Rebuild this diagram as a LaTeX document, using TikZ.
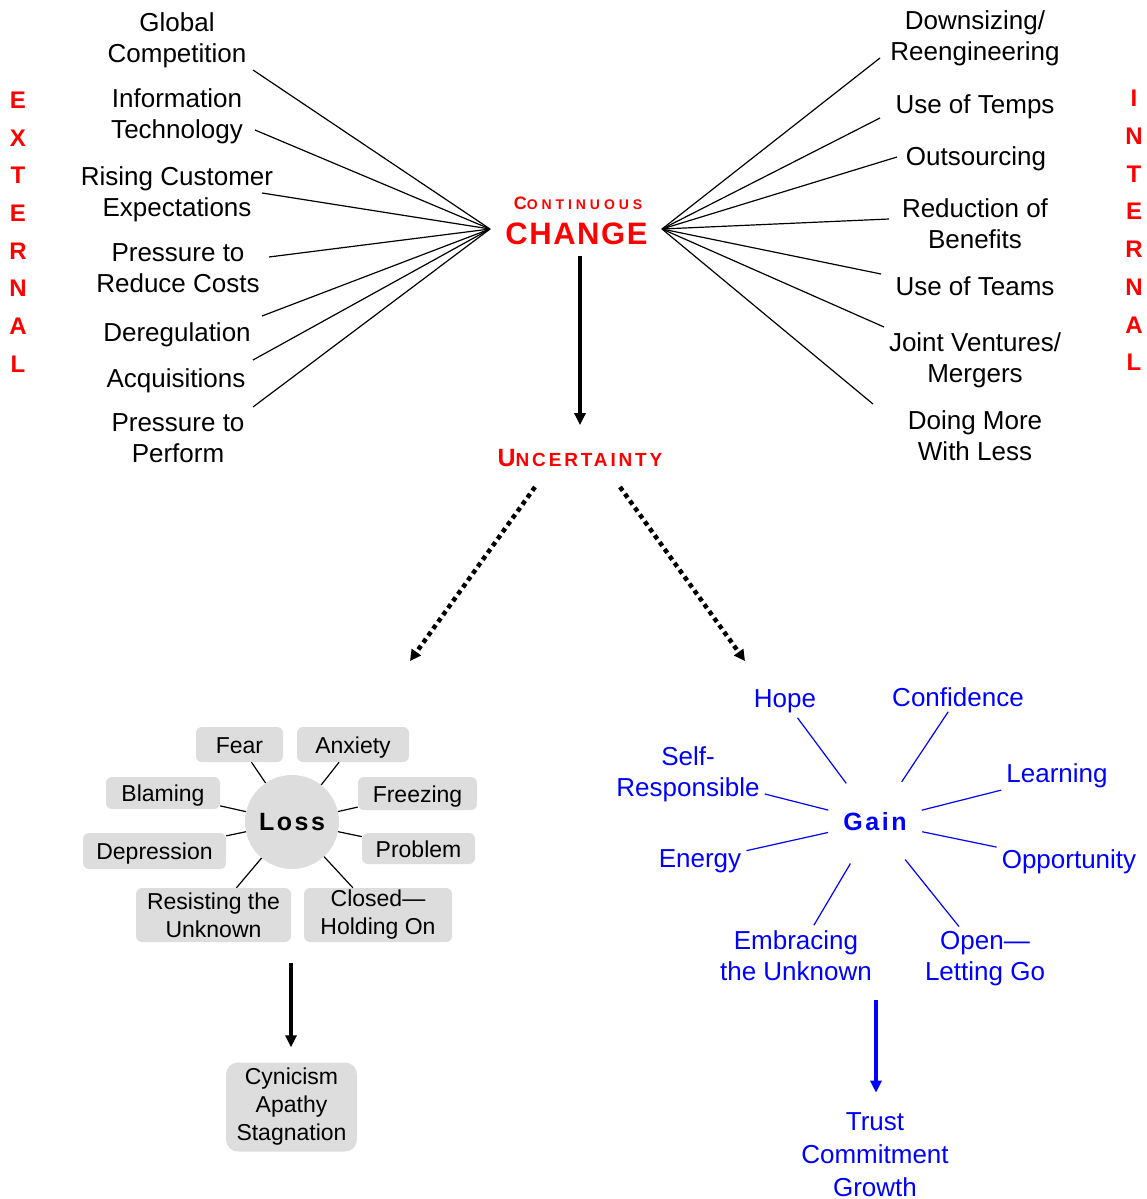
\documentclass[tikz,border=0pt]{standalone}
\usepackage{fontspec}
\setmainfont{Liberation Sans}
\newfontfamily\contfont[LetterSpace=28]{Liberation Sans}
\newfontfamily\changefont[LetterSpace=5]{Liberation Sans}
\newfontfamily\uncfont[LetterSpace=15]{Liberation Sans}
\newfontfamily\lossfont[LetterSpace=10]{Liberation Sans}
\usetikzlibrary{arrows.meta}
\definecolor{myred}{RGB}{255,0,0}
\definecolor{myblue}{RGB}{0,0,255}
\definecolor{boxgray}{RGB}{221,221,221}
\newcommand{\fsz}[2]{\fontsize{#1}{#2}\selectfont}
\begin{document}
\begin{tikzpicture}[x=1pt,y=-1pt,
  maintxt/.style={align=center,inner sep=3pt,font=\fsz{26}{31}},
  sidetxt/.style={align=center,inner sep=0pt,text=myred,font=\fsz{24}{37.7}\bfseries},
  titletxt/.style={inner sep=0pt,text=myred},
  fanline/.style={line width=1.2pt},
  graybox/.style={fill=boxgray,rounded corners=6pt,inner sep=0pt,align=center,font=\fsz{23}{28}},
  oneline/.style={text height=17pt,text depth=0pt},
  grayline/.style={line width=1.2pt},
  bluetxt/.style={align=center,inner sep=5pt,text=myblue,font=\fsz{26}{31}},
  blueline/.style={line width=1.2pt,draw=myblue},
  bigarrow/.style={line width=4.5pt,-{Triangle[length=12pt,width=11pt]}},
  dotarrow/.style={line width=4.5pt,dash pattern=on 4.5pt off 4pt,-{Triangle[length=11pt,width=11pt]}}
]
\useasboundingbox (0,0) rectangle (1146,1199);

% side labels
\node[sidetxt] (ext) at (18,232) {E\\X\\T\\E\\R\\N\\A\\L};
\node[sidetxt] (int) at (1134,230.5) {I\\N\\T\\E\\R\\N\\A\\L};

% title
\node[titletxt] (cont) at (578,203) {\contfont\bfseries\fsz{18}{18}C\fsz{14}{14}ONTINUOUS};
\node[titletxt] (change) at (576.5,234) {\changefont\bfseries\fsz{31}{31}CHANGE};
\node[titletxt] (uncert) at (580,458) {\uncfont\bfseries\fsz{25}{25}U\fsz{19}{19}NCERTAINTY};

% left items
\node[maintxt] (gc) at (177,40.5) {Global\\Competition};
\node[maintxt] (it) at (177,116.5) {Information\\Technology};
\node[maintxt] (rc) at (177,194.5) {Rising Customer\\Expectations};
\node[maintxt] (pr) at (178,268.5) {Pressure to\\Reduce Costs};
\node[maintxt] (dr) at (177,335) {Deregulation};
\node[maintxt] (acq) at (176,381) {Acquisitions};
\node[maintxt] (pp) at (178,438.5) {Pressure to\\Perform};

% right items
\node[maintxt] (ds) at (975,38.5) {Downsizing/\\Reengineering};
\node[maintxt] (ut) at (975,107) {Use of Temps};
\node[maintxt] (os) at (976,159) {Outsourcing};
\node[maintxt] (rb) at (975,223.5) {Reduction of\\Benefits};
\node[maintxt] (utm) at (975,286) {Use of Teams};
\node[maintxt] (jv) at (975,360.5) {Joint Ventures/\\Mergers};
\node[maintxt] (dm) at (975,435.5) {Doing More\\With Less};

% hubs and fan ends
\coordinate (lhub) at (490,229);
\coordinate (rhub) at (662,229);
\coordinate (gcE) at (253,70);
\coordinate (itE) at (255,130);
\coordinate (rcE) at (262,193);
\coordinate (prE) at (269,257);
\coordinate (drE) at (262,316);
\coordinate (acqE) at (253,360);
\coordinate (ppE) at (253,407);
\coordinate (dsE) at (880,58);
\coordinate (utE) at (880,118);
\coordinate (osE) at (897,157);
\coordinate (rbE) at (889,219);
\coordinate (utmE) at (881,274);
\coordinate (jvE) at (884,327);
\coordinate (dmE) at (873,404);
\foreach \e in {gcE,itE,rcE,prE,drE,acqE,ppE} \draw[fanline] (\e) -- (lhub);
\foreach \e in {dsE,utE,osE,rbE,utmE,jvE,dmE} \draw[fanline] (\e) -- (rhub);

% main arrow
\draw[bigarrow,shorten <=11pt,shorten >=24pt] (change.south -| uncert.north) -- (uncert.north);

% dotted arrows
\coordinate (dls) at (535,487);
\coordinate (dle) at (410,661);
\coordinate (drs) at (620,487);
\coordinate (dre) at (745,661);
\draw[dotarrow] (dls) -- (dle);
\draw[dotarrow] (drs) -- (dre);

% loss cluster
\node[circle,fill=boxgray,minimum size=94pt,inner sep=0pt,font=\lossfont\bfseries\fsz{25}{25}] (loss) at (292,822) {Loss};
\node[graybox,oneline,minimum width=87pt,minimum height=35pt] (fear) at (239.5,744.5) {Fear};
\node[graybox,oneline,minimum width=112pt,minimum height=35pt] (anx) at (353,744.5) {Anxiety};
\node[graybox,oneline,minimum width=114pt,minimum height=32pt] (blam) at (163,793) {Blaming};
\node[graybox,oneline,minimum width=119pt,minimum height=33pt] (frz) at (417.5,793.5) {Freezing};
\node[graybox,oneline,minimum width=143pt,minimum height=36pt] (dep) at (154.5,851) {Depression};
\node[graybox,oneline,minimum width=113pt,minimum height=31pt] (prob) at (418.5,848.5) {Problem};
\node[graybox,minimum width=155pt,minimum height=54pt] (resist) at (213.5,915) {Resisting the\\Unknown};
\node[graybox,minimum width=148pt,minimum height=54pt] (closed) at (378,915) {Closed—\\Holding On};
\foreach \b in {fear,anx,blam,frz,dep,prob,resist,closed} \draw[grayline] (loss) -- (\b);

\node[graybox,rounded corners=12pt,minimum width=131pt,minimum height=89pt] (cyn) at (291.5,1107) {Cynicism\\Apathy\\Stagnation};
\coordinate (lossbot) at (291,963);
\draw[bigarrow,shorten >=15pt] (lossbot) -- (lossbot |- cyn.north);

% gain cluster
\node[circle,minimum size=96pt,inner sep=0pt,text=myblue,font=\lossfont\bfseries\fsz{25}{25}] (gain) at (875,822) {Gain};
\node[bluetxt] (hope) at (785,701) {Hope};
\node[bluetxt] (conf) at (958,697) {Confidence};
\node[bluetxt] (self) at (688,774.5) {Self-\\Responsible};
\node[bluetxt] (learn) at (1057,776) {Learning};
\node[bluetxt] (energy) at (700,861) {Energy};
\node[bluetxt] (opp) at (1069,862) {Opportunity};
\node[bluetxt] (emb) at (796,955.5) {Embracing\\the Unknown};
\node[bluetxt] (open) at (985,959) {Open—\\Letting Go};
\foreach \b in {hope,conf,self,learn,energy,opp,emb,open} \draw[blueline] (gain) -- (\b);

\node[bluetxt,font=\fsz{26}{33}] (trust) at (875,1155) {Trust\\Commitment\\Growth};
\coordinate (gainbot) at (876,1000);
\draw[bigarrow,draw=myblue,fill=myblue,shorten >=15pt] (gainbot) -- (gainbot |- trust.north);
\end{tikzpicture}
\end{document}
